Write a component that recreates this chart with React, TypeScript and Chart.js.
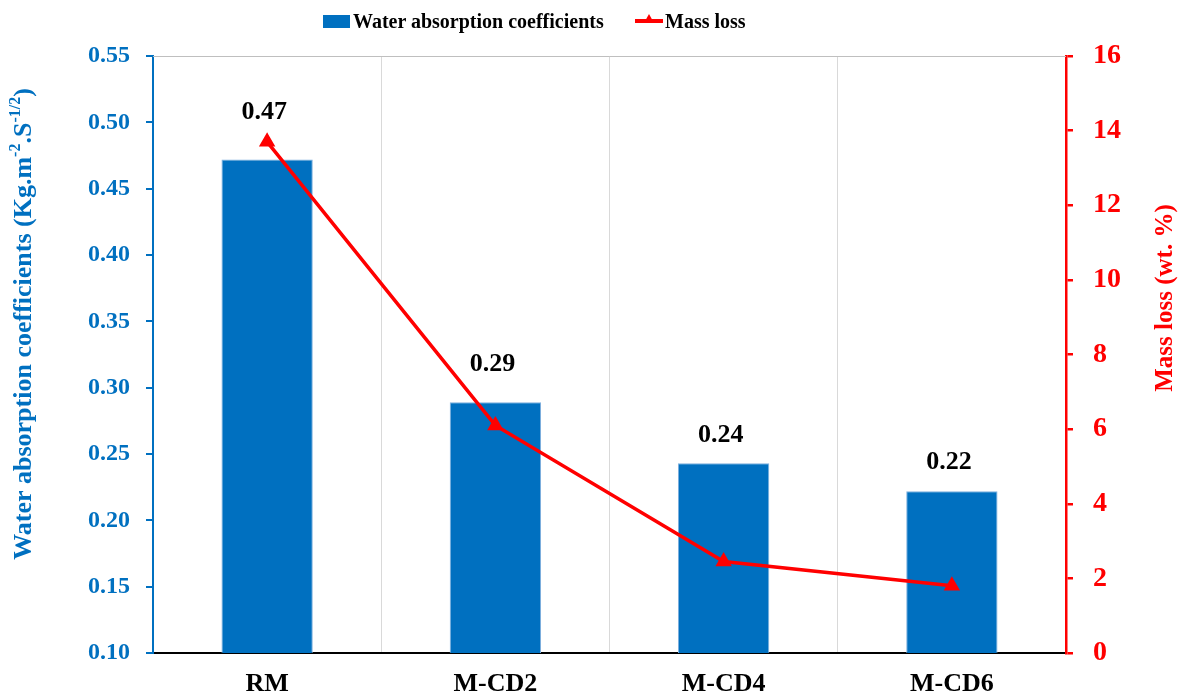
import React, { useEffect, useRef } from "react";
import { Chart, registerables } from "chart.js";

Chart.register(...registerables);

const categories = ["RM", "M-CD2", "M-CD4", "M-CD6"];
const waterAbsorption = [0.472, 0.289, 0.243, 0.222];
const massLoss = [13.7, 6.1, 2.45, 1.8];
const seriesNames = ["Water absorption coefficients", "Mass loss"];
const leftAxisRange = [0.1, 0.55, 0.05];
const rightAxisRange = [0, 16, 2];

const FONT = "'Liberation Serif', 'Times New Roman', serif";
const BLUE = "#0070C0";
const RED = "#FF0000";

const W = 1184;
const H = 699;

export default function App() {
  const ref = useRef<HTMLCanvasElement | null>(null);

  useEffect(() => {
    if (!ref.current) return;

    const decor = {
      id: "decor",
      beforeDatasetsDraw(chart: any) {
        const { ctx, chartArea } = chart;
        ctx.save();
        ctx.strokeStyle = "#bfbfbf";
        ctx.lineWidth = 1;
        ctx.beginPath();
        ctx.moveTo(chartArea.left, chartArea.top + 0.5);
        ctx.lineTo(chartArea.right, chartArea.top + 0.5);
        ctx.stroke();
        ctx.restore();
      },
      afterDatasetsDraw(chart: any) {
        const { ctx } = chart;
        const meta = chart.getDatasetMeta(0);
        const gaps = [47, 38, 28, 29];
        ctx.save();
        ctx.font = `bold 26px ${FONT}`;
        ctx.fillStyle = "#000";
        ctx.textAlign = "center";
        ctx.textBaseline = "middle";
        meta.data.forEach((bar: any, i: number) => {
          const v = waterAbsorption[i];
          ctx.fillText(v.toFixed(2), bar.x - 3, bar.y - gaps[i]);
        });
        ctx.restore();
      },
      afterDraw(chart: any) {
        const { ctx } = chart;
        const big = `bold 26px ${FONT}`;
        const small = `bold 16px ${FONT}`;
        const parts: [string, boolean][] = [
          ["Water absorption coefficients (Kg.m", false],
          ["-2", true],
          [".S", false],
          ["-1/2", true],
          [")", false],
        ];
        ctx.save();
        let total = 0;
        const widths = parts.map(([t, sup]) => {
          ctx.font = sup ? small : big;
          const w = ctx.measureText(t).width;
          total += w;
          return w;
        });
        ctx.translate(22, 324);
        ctx.rotate(-Math.PI / 2);
        ctx.fillStyle = BLUE;
        ctx.textBaseline = "alphabetic";
        ctx.textAlign = "left";
        let x = -total / 2;
        parts.forEach(([t, sup], i) => {
          ctx.font = sup ? small : big;
          ctx.fillText(t, x, sup ? -2 : 9);
          x += widths[i];
        });
        ctx.restore();

        ctx.save();
        ctx.translate(1166, 298);
        ctx.rotate(-Math.PI / 2);
        ctx.font = `bold 25px ${FONT}`;
        ctx.fillStyle = RED;
        ctx.textAlign = "center";
        ctx.textBaseline = "middle";
        ctx.fillText("Mass loss (wt. %)", 0, 0);
        ctx.restore();
      },
    };

    const chart = new Chart(ref.current, {
      type: "bar",
      data: {
        labels: categories,
        datasets: [
          {
            type: "bar",
            label: seriesNames[0],
            data: waterAbsorption,
            backgroundColor: BLUE,
            borderColor: "#7fb0de",
            borderWidth: 1,
            barPercentage: 0.4,
            categoryPercentage: 1,
            yAxisID: "y",
            order: 1,
          },
          {
            type: "line",
            label: seriesNames[1],
            data: massLoss,
            borderColor: RED,
            backgroundColor: RED,
            borderWidth: 3.5,
            pointStyle: "triangle",
            pointRadius: 6,
            pointBackgroundColor: RED,
            pointBorderColor: RED,
            yAxisID: "y1",
            order: 0,
            tension: 0,
          } as any,
        ],
      },
      options: {
        responsive: false,
        animation: false,
        layout: { padding: { top: 56, left: 0, right: 0, bottom: 0 } },
        plugins: {
          legend: { display: false },
          tooltip: { enabled: false },
        },
        scales: {
          x: {
            offset: true,
            grid: {
              offset: true,
              color: "#d9d9d9",
              lineWidth: 1,
              drawTicks: false,
            },
            border: { color: "#000", width: 2 },
            ticks: {
              color: "#000",
              font: { family: FONT, size: 26, weight: "bold" },
              padding: 16,
            },
            afterFit: (s: any) => {
              s.height = 46;
            },
          },
          y: {
            position: "left",
            min: leftAxisRange[0],
            max: leftAxisRange[1],
            ticks: {
              stepSize: leftAxisRange[2],
              color: BLUE,
              font: { family: FONT, size: 24, weight: "bold" },
              padding: 16,
              callback: (v: any) => Number(v).toFixed(2),
            },
            grid: {
              drawOnChartArea: false,
              drawTicks: true,
              tickLength: 7,
              color: BLUE,
              lineWidth: 2,
            },
            border: { color: BLUE, width: 2 },
            afterFit: (s: any) => {
              s.width = 153;
            },
          },
          y1: {
            position: "right",
            min: rightAxisRange[0],
            max: rightAxisRange[1],
            ticks: {
              stepSize: rightAxisRange[2],
              color: RED,
              font: { family: FONT, size: 28, weight: "bold" },
              padding: 20,
            },
            grid: {
              drawOnChartArea: false,
              drawTicks: true,
              tickLength: 7,
              color: RED,
              lineWidth: 2.5,
            },
            border: { color: RED, width: 2.5 },
            afterFit: (s: any) => {
              s.width = 118;
            },
          },
        },
      } as any,
      plugins: [decor],
    });

    return () => chart.destroy();
  }, []);

  const legendText: React.CSSProperties = {
    fontFamily: FONT,
    fontWeight: "bold",
    fontSize: 20,
    color: "#000",
    lineHeight: "26px",
    whiteSpace: "nowrap",
  };

  return (
    <div style={{ position: "absolute", left: 0, top: 0, width: W, height: H, background: "#fff" }}>
      <canvas ref={ref} width={W} height={H} style={{ display: "block", width: W, height: H }} />
      <div style={{ position: "absolute", left: 323, top: 8, display: "flex", alignItems: "center" }}>
        <span style={{ display: "inline-block", width: 27, height: 13, background: BLUE, marginRight: 3 }} />
        <span style={legendText}>{seriesNames[0]}</span>
      </div>
      <div style={{ position: "absolute", left: 635, top: 8, display: "flex", alignItems: "center" }}>
        <span style={{ position: "relative", display: "inline-block", width: 28, height: 26, marginRight: 2 }}>
          <span style={{ position: "absolute", left: 0, top: 11, width: 28, height: 4, background: RED }} />
          <span
            style={{
              position: "absolute",
              left: 9,
              top: 6,
              width: 0,
              height: 0,
              borderLeft: "5px solid transparent",
              borderRight: "5px solid transparent",
              borderBottom: `9px solid ${RED}`,
            }}
          />
        </span>
        <span style={legendText}>{seriesNames[1]}</span>
      </div>
    </div>
  );
}
